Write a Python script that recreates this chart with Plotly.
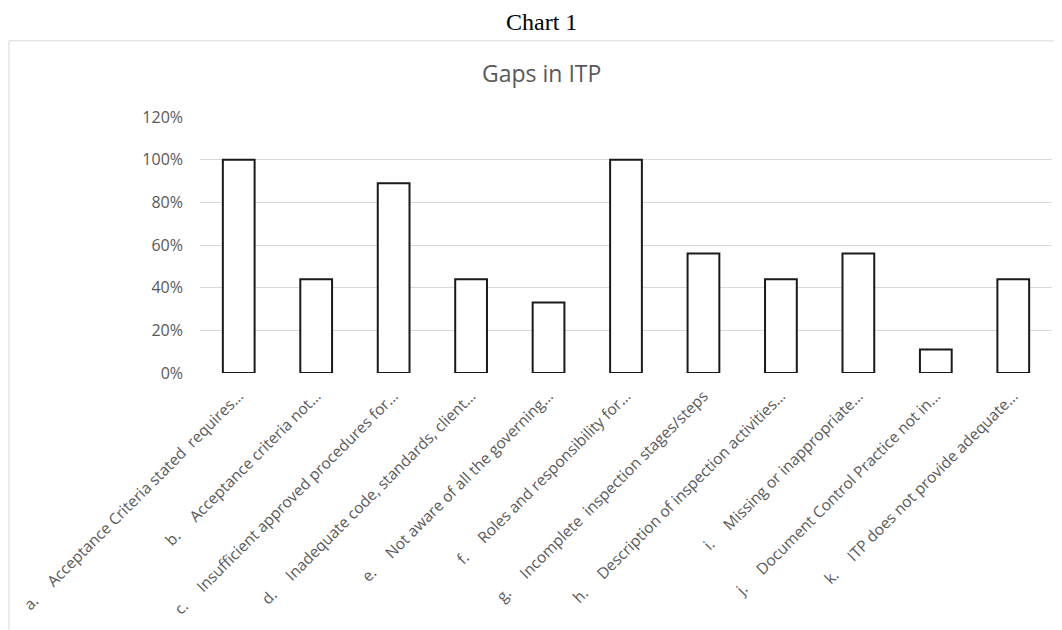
import plotly.graph_objects as go

NB = "\u00a0"
letters = ["a.", "b.", "c.", "d.", "e.", "f.", "g.", "h.", "i.", "j.", "k."]
texts = [
    "Acceptance Criteria stated" + NB + " requires…",
    "Acceptance criteria not…",
    "Insufficient approved procedures for…",
    "Inadequate code, standards, client…",
    "Not aware of all the governing…",
    "Roles and responsibility for…",
    "Incomplete" + NB + " inspection stages/steps",
    "Description of inspection activities…",
    "Missing or inappropriate…",
    "Document Control Practice not in…",
    "ITP does not provide adequate…",
]
values = [1.00, 0.44, 0.89, 0.44, 0.33, 1.00, 0.56, 0.44, 0.56, 0.11, 0.44]
ytick_vals = [0, 0.2, 0.4, 0.6, 0.8, 1.0, 1.2]
ytick_text = ["0%", "20%", "40%", "60%", "80%", "100%", "120%"]

labels = [l + NB * 5 + t for l, t in zip(letters, texts)]

OFF = 8  # page body margin
W, H = 1062 - OFF, 630 - OFF
L, R, T, B = 200 - OFF, 10, 116.7 - OFF, 630 - 372.7
pw, ph = W - L - R, H - T - B


def px(x):
    return (x - OFF - L) / pw


def py(y):
    return 1 - (y - OFF - T) / ph


fig = go.Figure(go.Bar(
    x=labels, y=values,
    marker=dict(color="white", line=dict(color="#1a1a1a", width=2)),
    hoverinfo="skip",
))

fig.update_layout(
    width=W, height=H,
    margin=dict(l=L, r=R, t=T, b=B, pad=0),
    paper_bgcolor="white", plot_bgcolor="white",
    bargap=0.59,
    showlegend=False,
    font=dict(family="Open Sans", color="#595959", size=12),
    xaxis=dict(
        tickangle=-45, showgrid=False, showline=False, zeroline=False,
        tickfont=dict(size=15.5, color="#595959"), ticks="", automargin=False,
        ticklabelstandoff=10,
    ),
    yaxis=dict(
        range=[0, 1.2], tickvals=ytick_vals, ticktext=ytick_text,
        showgrid=True, gridcolor="#d9d9d9", gridwidth=1,
        zeroline=False, showline=False, ticks="",
        ticklabelstandoff=16,
        tickfont=dict(size=16, color="#595959"), automargin=False,
    ),
    shapes=[dict(
        type="rect", xref="paper", yref="paper",
        x0=px(9), x1=px(1075), y0=py(645), y1=py(40.5),
        line=dict(color="#d9d9d9", width=1), fillcolor="rgba(0,0,0,0)", layer="below",
    )],
    annotations=[
        dict(text="Chart 1", xref="paper", yref="paper", x=px(541), y=py(22),
             showarrow=False, xanchor="center", yanchor="middle",
             font=dict(family="Liberation Serif", size=24, color="black")),
        dict(text="Gaps in ITP", xref="paper", yref="paper", x=px(541), y=py(73),
             showarrow=False, xanchor="center", yanchor="middle",
             font=dict(family="Open Sans", size=23, color="#595959")),
    ],
)

fig.write_html("out.html")
